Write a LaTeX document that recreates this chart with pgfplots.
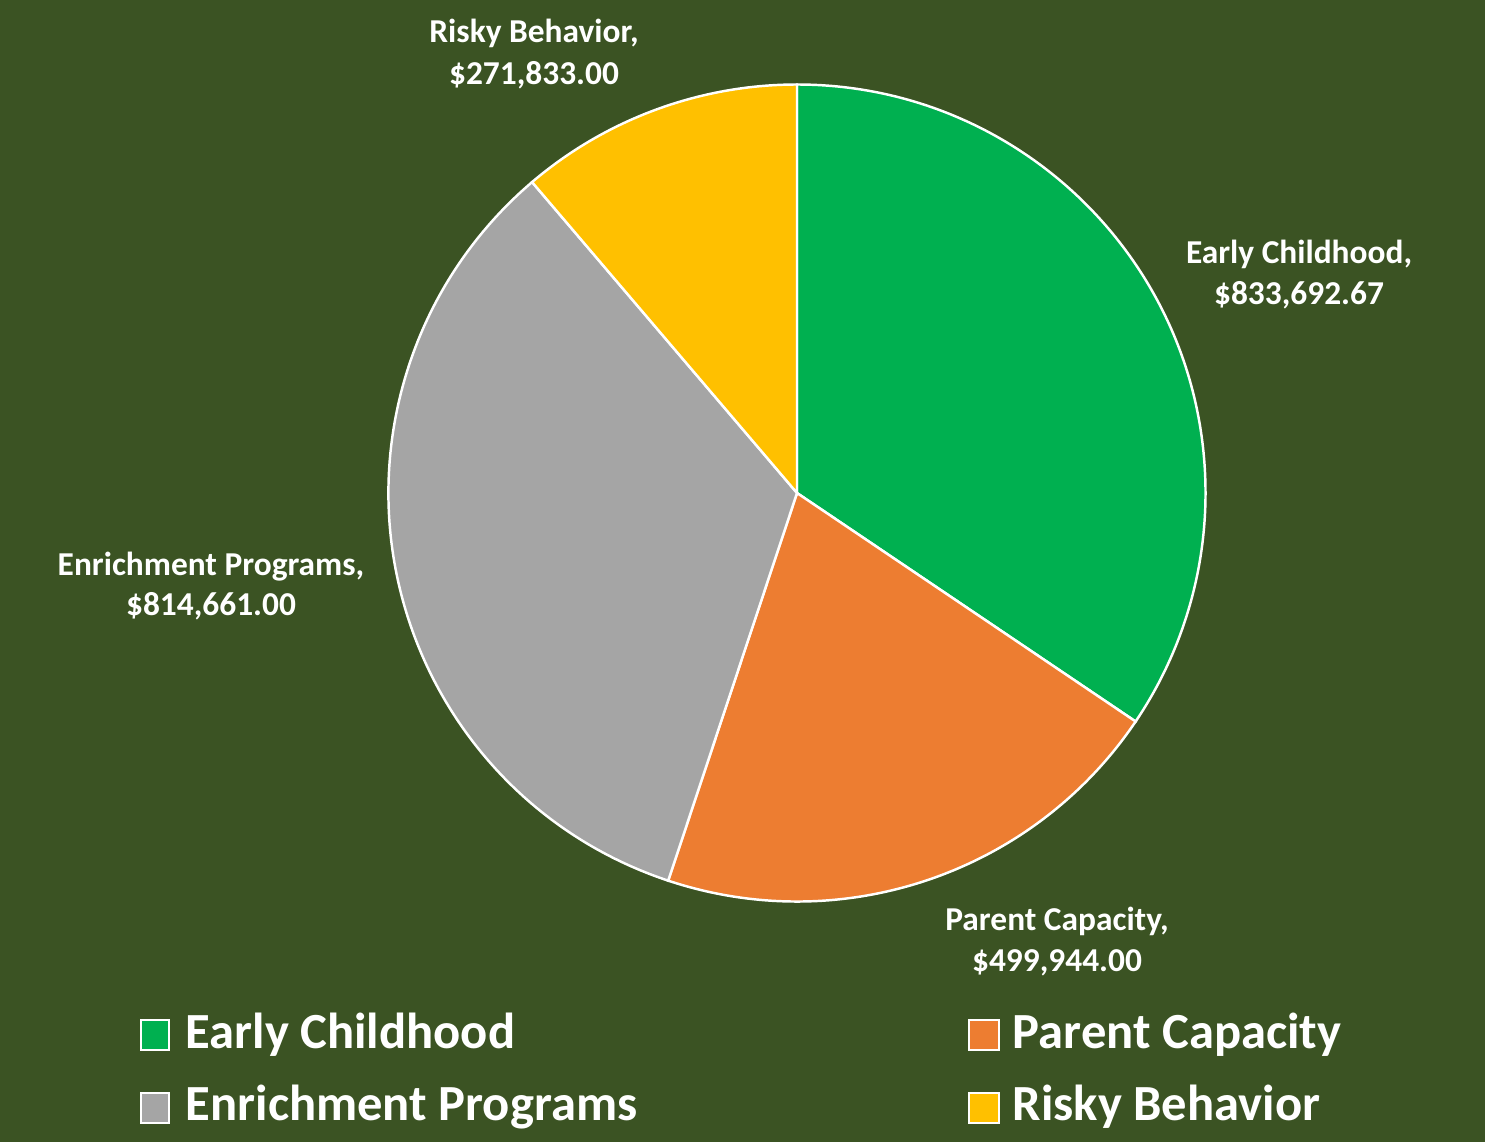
\documentclass[border=0pt]{standalone}
\usepackage{pgfplots}
\pgfplotsset{compat=1.18}
\usepackage{fontspec}
\setmainfont{Carlito}
\definecolor{bg}{HTML}{3B5323}
\definecolor{cEarly}{HTML}{00B050}
\definecolor{cParent}{HTML}{ED7D31}
\definecolor{cEnrich}{HTML}{A5A5A5}
\definecolor{cRisky}{HTML}{FFC000}
% values in thousands of dollars
\def\vEarly{833.69267}
\def\vParent{499.944}
\def\vEnrich{814.661}
\def\vRisky{271.833}
\begin{document}
\begin{tikzpicture}
\pgfmathsetmacro\tot{\vEarly+\vParent+\vEnrich+\vRisky}
\pgfmathsetmacro\aA{90}
\pgfmathsetmacro\aB{\aA-360*(\vEarly/\tot)}
\pgfmathsetmacro\aC{\aB-360*(\vParent/\tot)}
\pgfmathsetmacro\aD{\aC-360*(\vEnrich/\tot)}
\pgfmathsetmacro\aE{\aD-360*(\vRisky/\tot)}
\begin{axis}[scale only axis, width=14.85cm, height=11.42cm,
  xmin=0, xmax=1485, ymin=0, ymax=1142, hide axis, clip=false]
\fill[bg] (axis cs:0,0) rectangle (axis cs:1485,1142);
\filldraw[fill=cEarly, draw=white, line width=0.7pt] (axis cs:797,649) -- ++(\aA:4.085cm) arc[start angle=\aA, end angle=\aB, radius=4.085cm] -- cycle;
\filldraw[fill=cParent, draw=white, line width=0.7pt] (axis cs:797,649) -- ++(\aB:4.085cm) arc[start angle=\aB, end angle=\aC, radius=4.085cm] -- cycle;
\filldraw[fill=cEnrich, draw=white, line width=0.7pt] (axis cs:797,649) -- ++(\aC:4.085cm) arc[start angle=\aC, end angle=\aD, radius=4.085cm] -- cycle;
\filldraw[fill=cRisky, draw=white, line width=0.7pt] (axis cs:797,649) -- ++(\aD:4.085cm) arc[start angle=\aD, end angle=\aE, radius=4.085cm] -- cycle;
% data labels
\begin{scope}[every node/.style={text=white, font=\fontsize{9.5}{11}\selectfont\bfseries, anchor=base, inner sep=0pt}]
\node at (axis cs:534,1099) {Risky Behavior,};
\node at (axis cs:534,1058) {\$271,833.00};
\node at (axis cs:1299,879) {Early Childhood,};
\node at (axis cs:1299,838) {\$833,692.67};
\node at (axis cs:211,567) {Enrichment Programs,};
\node at (axis cs:211,527) {\$814,661.00};
\node at (axis cs:1057,212) {Parent Capacity,};
\node at (axis cs:1057,171) {\$499,944.00};
\end{scope}
% legend
\filldraw[fill=cEarly, draw=white, line width=0.8pt] (axis cs:141,92) rectangle (axis cs:169,122);
\filldraw[fill=cEnrich, draw=white, line width=0.8pt] (axis cs:141,19) rectangle (axis cs:169,49);
\filldraw[fill=cParent, draw=white, line width=0.8pt] (axis cs:969,92) rectangle (axis cs:999,122);
\filldraw[fill=cRisky, draw=white, line width=0.8pt] (axis cs:969,19) rectangle (axis cs:999,49);
\begin{scope}[every node/.style={text=white, font=\fontsize{14.4}{17}\selectfont\bfseries, anchor=base west, inner sep=0pt}]
\node at (axis cs:185,94) {Early Childhood};
\node at (axis cs:185,22) {Enrichment Programs};
\node at (axis cs:1012,94) {Parent Capacity};
\node at (axis cs:1012,22) {Risky Behavior};
\end{scope}
\end{axis}
\end{tikzpicture}
\end{document}
